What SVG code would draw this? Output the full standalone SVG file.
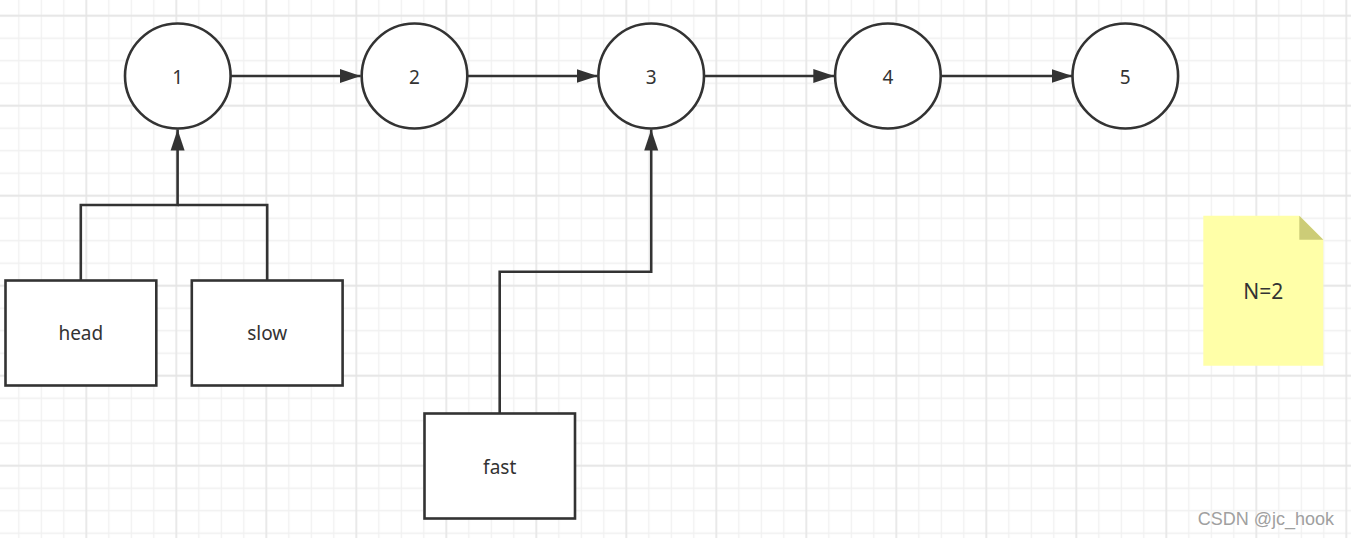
<svg xmlns="http://www.w3.org/2000/svg" width="1351" height="538" viewBox="0 0 1351 538">
<style>
.node{fill:#ffffff;stroke:#333333;stroke-width:2.6}
.lbl{font-family:"Noto Sans","Liberation Sans",sans-serif;font-size:19px;fill:#333333;text-anchor:middle}
.edge{fill:none;stroke:#333333;stroke-width:2.6}
</style>
<defs>
<pattern id="minor" patternUnits="userSpaceOnUse" x="7.55" y="4.45" width="22.5" height="22.5">
<path d="M11.25 0V22.5M0 11.25H22.5" stroke="#f0f0f0" stroke-width="1.3" fill="none"/>
</pattern>
<pattern id="major" patternUnits="userSpaceOnUse" x="41.3" y="-29.3" width="90" height="90">
<path d="M45 0V90M0 45H90" stroke="#e4e4e4" stroke-width="1.3" fill="none"/>
</pattern>
<marker id="arr" markerUnits="userSpaceOnUse" markerWidth="22" markerHeight="15" refX="21" refY="7" orient="auto" viewBox="0 0 22 14">
<path d="M0 0L21 7L0 14Z" fill="#333333"/>
</marker>
</defs>
<rect width="1351" height="538" fill="#ffffff"/>
<rect width="1351" height="538" fill="url(#minor)"/>
<rect width="1351" height="538" fill="url(#major)"/>
<g id="connectors">
<path class="edge" d="M230.6 76H360.7" marker-end="url(#arr)"/>
<path class="edge" d="M467.3 76H597.6" marker-end="url(#arr)"/>
<path class="edge" d="M704 76H834.3" marker-end="url(#arr)"/>
<path class="edge" d="M940.7 76H1072.5" marker-end="url(#arr)"/>
<path class="edge" d="M80.8 280V205H177.6V129.5" marker-end="url(#arr)"/>
<path class="edge" d="M267.2 280V205H177.6"/>
<path class="edge" d="M499.7 413.3V271.7H651.2V129.5" marker-end="url(#arr)"/>
</g>
<g id="n1"><ellipse class="node" cx="177.8" cy="76" rx="52.8" ry="52.5"/><text class="lbl" x="177.8" y="84">1</text></g>
<g id="n2"><ellipse class="node" cx="414.5" cy="76" rx="52.8" ry="52.5"/><text class="lbl" x="414.5" y="84">2</text></g>
<g id="n3"><ellipse class="node" cx="651.2" cy="76" rx="52.8" ry="52.5"/><text class="lbl" x="651.2" y="84">3</text></g>
<g id="n4"><ellipse class="node" cx="887.9" cy="76" rx="52.8" ry="52.5"/><text class="lbl" x="887.9" y="84">4</text></g>
<g id="n5"><ellipse class="node" cx="1125.3" cy="76" rx="52.8" ry="52.5"/><text class="lbl" x="1125.3" y="84">5</text></g>
<g id="head"><rect class="node" x="5.5" y="280.5" width="150.8" height="105"/><text class="lbl" x="80.8" y="340">head</text></g>
<g id="slow"><rect class="node" x="191.8" y="280.5" width="150.8" height="105"/><text class="lbl" x="267.2" y="340">slow</text></g>
<g id="fast"><rect class="node" x="424.5" y="413.5" width="150.5" height="105"/><text class="lbl" x="499.7" y="473.5">fast</text></g>
<g id="note">
<path d="M1203.3 215.7H1299.3L1323.3 239.7V365.7H1203.3Z" fill="#ffffa8"/>
<path d="M1299.3 215.7L1323.3 239.7H1299.3Z" fill="#cccc77"/>
<text class="lbl" x="1263.3" y="299.3" style="font-size:21px">N=2</text>
</g>
<text x="1197.7" y="525" font-family="Liberation Sans, Arial, sans-serif" font-size="18" fill="#a0a0a0">CSDN @jc_hook</text>
</svg>
